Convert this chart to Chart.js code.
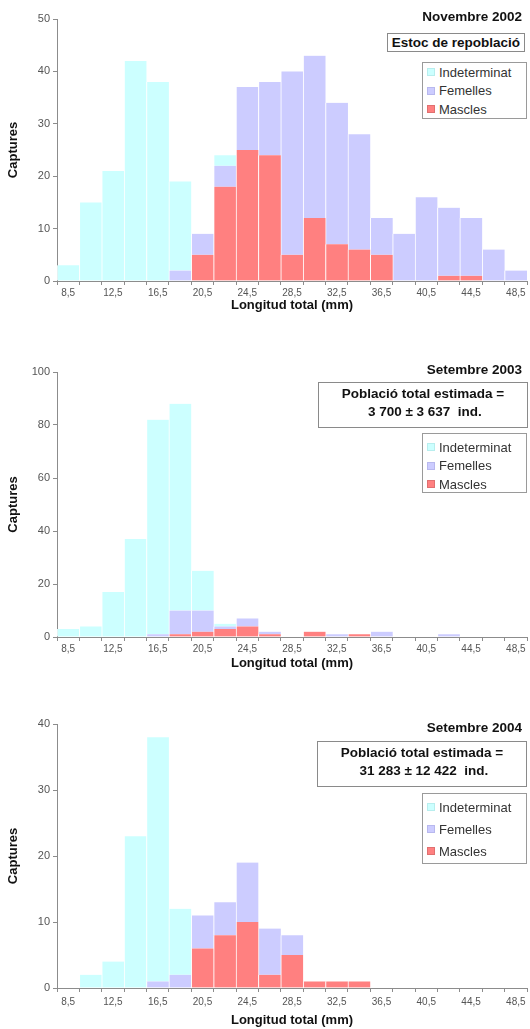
<!DOCTYPE html>
<html><head><meta charset="utf-8">
<script src="https://cdn.jsdelivr.net/npm/chart.js@4"></script>
<style>
html,body{margin:0;padding:0;background:#fff;}
body{width:530px;height:1029px;position:relative;overflow:hidden;font-family:"Liberation Sans",Arial,sans-serif;}
.cv{position:absolute;left:0;}
.title{position:absolute;right:8px;font-weight:bold;font-size:13.5px;line-height:16px;color:#111;white-space:nowrap;}
.box{position:absolute;border:1px solid #8a8a8a;background:#fff;font-weight:bold;font-size:13.5px;color:#111;text-align:center;white-space:pre;box-sizing:border-box;}
.legend{position:absolute;border:1px solid #9a9a9a;background:#fff;font-size:13px;color:#333;box-sizing:border-box;}
.legend .it{display:flex;align-items:center;white-space:nowrap;}
.legend .m{display:inline-block;width:6px;height:6px;margin:0 5px 0 5px;}
</style></head>
<body>
<canvas id="c1" class="cv" style="top:0px"></canvas>
<canvas id="c2" class="cv" style="top:355px"></canvas>
<canvas id="c3" class="cv" style="top:709px"></canvas>

<div class="title" style="top:9px">Novembre 2002</div>
<div class="box" style="top:33px;right:5px;height:19px;line-height:17px;padding:0 4px;">Estoc de repoblació</div>
<div id="lg1" class="legend" style="left:422px;top:62px;width:105px;height:57px;padding-top:0px;"></div>

<div class="title" style="top:362px">Setembre 2003</div>
<div class="box" style="left:318px;top:382px;width:210px;height:46px;line-height:17.5px;padding-top:2px;">Població total estimada =
 3 700 ± 3 637  ind.</div>
<div id="lg2" class="legend" style="left:422px;top:433px;width:105px;height:60px;padding-top:4px;"></div>

<div class="title" style="top:720px">Setembre 2004</div>
<div class="box" style="left:317px;top:741px;width:210px;height:46px;line-height:17.5px;padding-top:2px;">Població total estimada =
 31 283 ± 12 422  ind.</div>
<div id="lg3" class="legend" style="left:422px;top:793px;width:105px;height:71px;padding-top:2px;"></div>

<script>
// ---- data ----
const lengthClasses = ['8,5','10,5','12,5','14,5','16,5','18,5','20,5','22,5','24,5','26,5','28,5','30,5','32,5','34,5','36,5','38,5','40,5','42,5','44,5','46,5','48,5'];
const tickLabels = ['8,5','12,5','16,5','20,5','24,5','28,5','32,5','36,5','40,5','44,5','48,5'];
const seriesNames = ['Indeterminat','Femelles','Mascles'];
const seriesColors = ['#ccffff','#ccccff','#ff8080'];

const nov2002Indeterminat = [3,15,21,42,38,17,0,2,0,0,0,0,0,0,0,0,0,0,0,0,0];
const nov2002Femelles     = [0,0,0,0,0,2,4,4,12,14,35,31,27,22,7,9,16,13,11,6,2];
const nov2002Mascles      = [0,0,0,0,0,0,5,18,25,24,5,12,7,6,5,0,0,1,1,0,0];

const sep2003Indeterminat = [3,4,17,37,81,78,15,1,0,0,0,0,0,0,0,0,0,0,0,0,0];
const sep2003Femelles     = [0,0,0,0,1,9,8,1,3,1,0,0,1,0,2,0,0,1,0,0,0];
const sep2003Mascles      = [0,0,0,0,0,1,2,3,4,1,0,2,0,1,0,0,0,0,0,0,0];

const sep2004Indeterminat = [0,2,4,23,37,10,0,0,0,0,0,0,0,0,0,0,0,0,0,0,0];
const sep2004Femelles     = [0,0,0,0,1,2,5,5,9,7,3,0,0,0,0,0,0,0,0,0,0];
const sep2004Mascles      = [0,0,0,0,0,0,6,8,10,2,5,1,1,1,0,0,0,0,0,0,0];

const yMax1 = 50, yStep1 = 10;
const yMax2 = 100, yStep2 = 20;
const yMax3 = 40, yStep3 = 10;

// ---- rendering ----
const FONT = '"Liberation Sans", Arial, sans-serif';
Chart.defaults.font.family = FONT;
Chart.defaults.animation = false;

function makeChart(id, ind, fem, mas, yMax, yStep, g) {
  const cv = document.getElementById(id);
  cv.width = 530; cv.height = 320;
  const ds = (label, data, color) => ({
    label, data, backgroundColor: color,
    borderColor: 'rgba(255,255,255,0.85)',
    borderWidth: {left: 1, right: 0, top: 0, bottom: 0},
    borderSkipped: false,
    categoryPercentage: 1, barPercentage: 1
  });
  return new Chart(cv, {
    type: 'bar',
    data: {
      labels: lengthClasses,
      datasets: [
        ds(seriesNames[2], mas, seriesColors[2]),
        ds(seriesNames[1], fem, seriesColors[1]),
        ds(seriesNames[0], ind, seriesColors[0])
      ]
    },
    options: {
      responsive: false,
      animation: false,
      devicePixelRatio: 1,
      layout: {padding: {top: g.padTop, right: 3, left: 0, bottom: 0}},
      plugins: {legend: {display: false}, tooltip: {enabled: false}},
      scales: {
        x: {
          stacked: true, offset: true,
          grid: {offset: true, drawOnChartArea: false, drawTicks: true, tickLength: 4, color: '#8c8c8c'},
          border: {color: '#8c8c8c', width: 1},
          ticks: {
            autoSkip: false, maxRotation: 0, minRotation: 0,
            font: {size: 10}, color: '#555', padding: g.tickPad,
            callback: function (v) { const l = this.getLabelForValue(v); return tickLabels.includes(l) ? l : ''; }
          },
          title: {display: true, text: 'Longitud total (mm)', color: '#111',
                  font: {size: 13, weight: 'bold'}, padding: {top: 0, bottom: g.titlePad}},
          afterFit: s => { s.height = g.xHeight; }
        },
        y: {
          stacked: true, min: 0, max: yMax,
          grid: {drawOnChartArea: false, drawTicks: true, tickLength: 4, color: '#8c8c8c'},
          border: {color: '#8c8c8c', width: 1},
          ticks: {stepSize: yStep, font: {size: 11}, color: '#555', padding: 3},
          title: {display: true, text: 'Captures', color: '#111',
                  font: {size: 13, weight: 'bold'}, padding: {top: 6, bottom: 0}},
          afterFit: s => { s.width = 57; }
        }
      }
    }
  });
}

function makeLegend(id, rowH) {
  const el = document.getElementById(id);
  seriesNames.forEach((n, i) => {
    const r = document.createElement('div');
    r.className = 'it';
    r.style.height = rowH + 'px';
    const m = document.createElement('span');
    m.className = 'm';
    m.style.background = seriesColors[i];
    m.style.outline = '1px solid ' + (i === 2 ? '#e07070' : i === 1 ? '#b8b8ee' : '#b8eeee');
    r.appendChild(m);
    r.appendChild(document.createTextNode(n));
    el.appendChild(r);
  });
}

makeChart('c1', nov2002Indeterminat, nov2002Femelles, nov2002Mascles, yMax1, yStep1,
  {padTop: 19, xHeight: 39, tickPad: 2, titlePad: 7});
makeChart('c2', sep2003Indeterminat, sep2003Femelles, sep2003Mascles, yMax2, yStep2,
  {padTop: 17, xHeight: 38, tickPad: 2, titlePad: 4});
makeChart('c3', sep2004Indeterminat, sep2004Femelles, sep2004Mascles, yMax3, yStep3,
  {padTop: 15, xHeight: 41, tickPad: 4, titlePad: 1});

makeLegend('lg1', 18.5);
makeLegend('lg2', 18.5);
makeLegend('lg3', 22);
</script>
</body></html>
